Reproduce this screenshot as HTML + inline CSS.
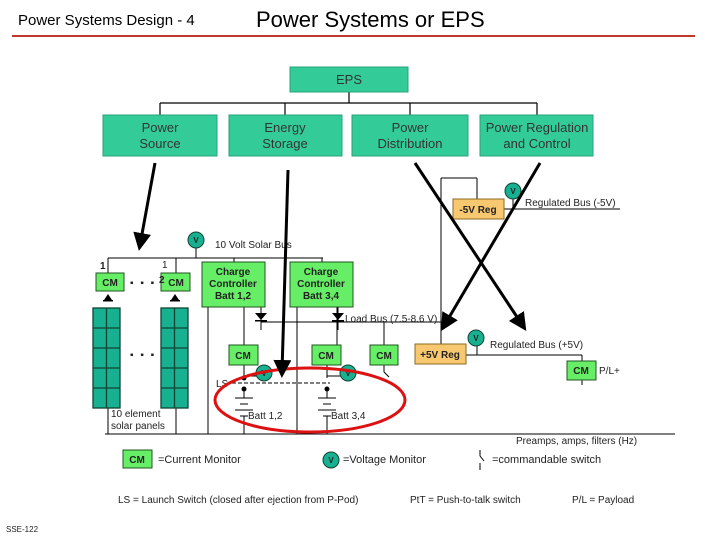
<!DOCTYPE html>
<html><head><meta charset="utf-8"><style>
html,body{margin:0;padding:0;background:#fff;}
svg{display:block;font-family:"Liberation Sans",sans-serif;}
</style></head><body>
<svg width="720" height="540" viewBox="0 0 720 540" xmlns="http://www.w3.org/2000/svg">
<defs>
<marker id="ah" markerWidth="6" markerHeight="6" refX="4" refY="3" orient="auto" markerUnits="strokeWidth">
<path d="M0,0 L6,3 L0,6 Z" fill="#000"/></marker>
</defs>
<text x="18" y="25" font-size="15">Power Systems Design - 4</text>
<text x="256" y="27" font-size="22">Power Systems or EPS</text>
<line x1="12" y1="36" x2="695" y2="36" stroke="#c0392b" stroke-width="2"/>

<!-- tree -->
<g stroke="#000" stroke-width="1.2" fill="none">
<line x1="349" y1="92" x2="349" y2="103"/>
<line x1="160" y1="103" x2="537" y2="103"/>
<line x1="160" y1="103" x2="160" y2="115"/>
<line x1="285" y1="103" x2="285" y2="115"/>
<line x1="410" y1="103" x2="410" y2="115"/>
<line x1="537" y1="103" x2="537" y2="115"/>
</g>
<g fill="#33cc99" stroke="#2aa37a">
<rect x="290" y="67" width="118" height="25"/>
<rect x="103" y="115" width="114" height="41"/>
<rect x="229" y="115" width="113" height="41"/>
<rect x="352" y="115" width="116" height="41"/>
<rect x="480" y="115" width="113" height="41"/>
</g>
<g font-size="13" fill="#333" text-anchor="middle">
<text x="349" y="84">EPS</text>
<text x="160" y="132">Power</text><text x="160" y="148">Source</text>
<text x="285" y="132">Energy</text><text x="285" y="148">Storage</text>
<text x="410" y="132">Power</text><text x="410" y="148">Distribution</text>
<text x="537" y="132">Power Regulation</text><text x="537" y="148">and Control</text>
</g>

<!-- wires -->
<g stroke="#000" stroke-width="1" fill="none">
<line x1="108" y1="258" x2="323" y2="258"/>
<line x1="108" y1="258" x2="108" y2="273"/>
<line x1="176" y1="258" x2="176" y2="273"/>
<line x1="196" y1="248" x2="196" y2="258"/>
<line x1="234" y1="258" x2="234" y2="262"/>
<line x1="322" y1="258" x2="322" y2="262"/>
<line x1="208" y1="307" x2="208" y2="434"/>
<line x1="244" y1="307" x2="244" y2="345"/>
<line x1="297" y1="307" x2="297" y2="434"/>
<line x1="337" y1="307" x2="337" y2="345"/>
<line x1="261" y1="307" x2="261" y2="330"/>
<line x1="338" y1="307" x2="338" y2="330"/>
<line x1="261" y1="322" x2="441" y2="322"/>
<line x1="384" y1="322" x2="384" y2="345"/>
<line x1="441" y1="178" x2="441" y2="344"/>
<line x1="441" y1="178" x2="477" y2="178"/>
<line x1="477" y1="178" x2="477" y2="199"/>
<line x1="504" y1="209" x2="620" y2="209"/>
<line x1="513" y1="199" x2="513" y2="209"/>
<line x1="466" y1="355" x2="582" y2="355"/>
<line x1="477" y1="346" x2="477" y2="355"/>
<line x1="582" y1="355" x2="582" y2="361"/>
<line x1="582" y1="380" x2="582" y2="385"/>
<line x1="244" y1="365" x2="244" y2="378"/>
<line x1="244" y1="376" x2="258" y2="376"/>
<line x1="327" y1="365" x2="327" y2="378"/>
<line x1="327" y1="376" x2="342" y2="376"/>
<line x1="384" y1="365" x2="384" y2="372"/>
<line x1="384" y1="372" x2="389" y2="377"/>
<line x1="105" y1="434" x2="675" y2="434"/>
<line x1="108" y1="408" x2="108" y2="434"/>
<line x1="176" y1="408" x2="176" y2="434"/>
<!-- batteries -->
<line x1="244" y1="390" x2="244" y2="398"/>
<line x1="235" y1="398" x2="253" y2="398"/>
<line x1="240" y1="404" x2="248" y2="404"/>
<line x1="235" y1="410" x2="253" y2="410"/>
<line x1="240" y1="416" x2="248" y2="416"/>
<line x1="244" y1="416" x2="244" y2="434"/>
<line x1="327" y1="390" x2="327" y2="398"/>
<line x1="318" y1="398" x2="336" y2="398"/>
<line x1="323" y1="404" x2="331" y2="404"/>
<line x1="318" y1="410" x2="336" y2="410"/>
<line x1="323" y1="416" x2="331" y2="416"/>
<line x1="327" y1="416" x2="327" y2="434"/>
<line x1="232" y1="383" x2="330" y2="383" stroke-dasharray="4,2"/>
<line x1="480" y1="450" x2="480" y2="456"/>
<line x1="480" y1="456" x2="484" y2="461"/>
<line x1="480" y1="463" x2="480" y2="470"/>
</g>
<circle cx="244" cy="378" r="2.5"/><circle cx="244" cy="389" r="2.5"/>
<circle cx="327" cy="389" r="2.5"/>
<!-- diodes -->
<g fill="#000">
<path d="M255,313 L267,313 L261,320 Z"/><rect x="255" y="320" width="12" height="1.5"/>
<path d="M332,313 L344,313 L338,320 Z"/><rect x="332" y="320" width="12" height="1.5"/>
<path d="M104,300 L112,300 L108,294 Z"/><rect x="103" y="300" width="10" height="1.5"/>
<path d="M171,300 L179,300 L175,294 Z"/><rect x="170" y="300" width="10" height="1.5"/>
</g>

<!-- solar panels -->
<g stroke="#114433" stroke-width="1.3" fill="#17b090">
<rect x="93" y="308" width="27" height="100"/>
<rect x="161" y="308" width="27" height="100"/>
<path d="M106.5,308 V408 M93,328 H120 M93,348 H120 M93,368 H120 M93,388 H120 M174.5,308 V408 M161,328 H188 M161,348 H188 M161,368 H188 M161,388 H188" fill="none"/>
</g>

<!-- green boxes -->
<g fill="#66ee66" stroke="#225522">
<rect x="96" y="273" width="28" height="18"/>
<rect x="161" y="273" width="29" height="18"/>
<rect x="202" y="262" width="63" height="45"/>
<rect x="290" y="262" width="63" height="45"/>
<rect x="229" y="345" width="29" height="20"/>
<rect x="312" y="345" width="29" height="20"/>
<rect x="370" y="345" width="28" height="20"/>
<rect x="567" y="361" width="29" height="19"/>
<rect x="123" y="450" width="29" height="18"/>
</g>
<g fill="#f8c870" stroke="#8a6a20">
<rect x="453" y="199" width="51" height="20"/>
<rect x="415" y="344" width="51" height="20"/>
</g>
<g fill="#17b090" stroke="#114433">
<circle cx="196" cy="240" r="8"/><circle cx="513" cy="191" r="8"/>
<circle cx="476" cy="338" r="8"/><circle cx="264" cy="373" r="8"/>
<circle cx="348" cy="373" r="8"/><circle cx="331" cy="460" r="8"/>
</g>
<g font-size="8" font-weight="bold" text-anchor="middle" fill="#222">
<text x="196" y="243">V</text><text x="513" y="194">V</text><text x="476" y="341">V</text>
<text x="264" y="376">V</text><text x="348" y="376">V</text><text x="331" y="463">V</text>
</g>
<g font-size="10" font-weight="bold" fill="#222" text-anchor="middle">
<text x="110" y="286">CM</text><text x="176" y="286">CM</text>
<text x="233" y="275">Charge</text><text x="233" y="287">Controller</text><text x="233" y="299">Batt 1,2</text>
<text x="321" y="275">Charge</text><text x="321" y="287">Controller</text><text x="321" y="299">Batt 3,4</text>
<text x="243" y="359">CM</text><text x="326" y="359">CM</text><text x="384" y="359">CM</text>
<text x="581" y="374">CM</text><text x="137" y="463">CM</text>
<text x="478" y="213">-5V Reg</text><text x="440" y="358">+5V Reg</text>
</g>
<g font-size="10" fill="#222">
<text x="100" y="269" font-weight="bold">1</text>
<text x="162" y="268">1</text><text x="159" y="283" font-weight="bold">2</text>
<text x="130" y="286" font-weight="bold" letter-spacing="2">▪ ▪ ▪</text>
<text x="130" y="358" font-weight="bold" letter-spacing="2">▪ ▪ ▪</text>
<text x="215" y="248">10 Volt Solar Bus</text>
<text x="345" y="322">Load Bus (7.5-8.6 V)</text>
<text x="525" y="206">Regulated Bus (-5V)</text>
<text x="490" y="348">Regulated Bus (+5V)</text>
<text x="599" y="374">P/L+</text>
<text x="216" y="387">LS</text>
<text x="248" y="419">Batt 1,2</text>
<text x="331" y="419">Batt 3,4</text>
<text x="111" y="417">10 element</text>
<text x="111" y="429">solar panels</text>
<text x="516" y="444">Preamps, amps, filters (Hz)</text>
<text x="158" y="463" font-size="11">=Current Monitor</text>
<text x="343" y="463" font-size="11">=Voltage Monitor</text>
<text x="492" y="463" font-size="11">=commandable switch</text>
<text x="118" y="503">LS = Launch Switch (closed after ejection from P-Pod)</text>
<text x="410" y="503">PtT = Push-to-talk switch</text>
<text x="572" y="503">P/L = Payload</text>
<text x="6" y="532" font-size="8">SSE-122</text>
</g>

<!-- red ellipse -->
<ellipse cx="310" cy="400" rx="95" ry="32" fill="none" stroke="#dd1111" stroke-width="3"/>

<!-- big arrows -->
<g stroke="#000" stroke-width="3" fill="none" marker-end="url(#ah)">
<line x1="155" y1="163" x2="140" y2="245"/>
<line x1="288" y1="170" x2="282" y2="372"/>
<line x1="415" y1="163" x2="523" y2="326"/>
<line x1="540" y1="163" x2="444" y2="326"/>
</g>
</svg>
</body></html>
